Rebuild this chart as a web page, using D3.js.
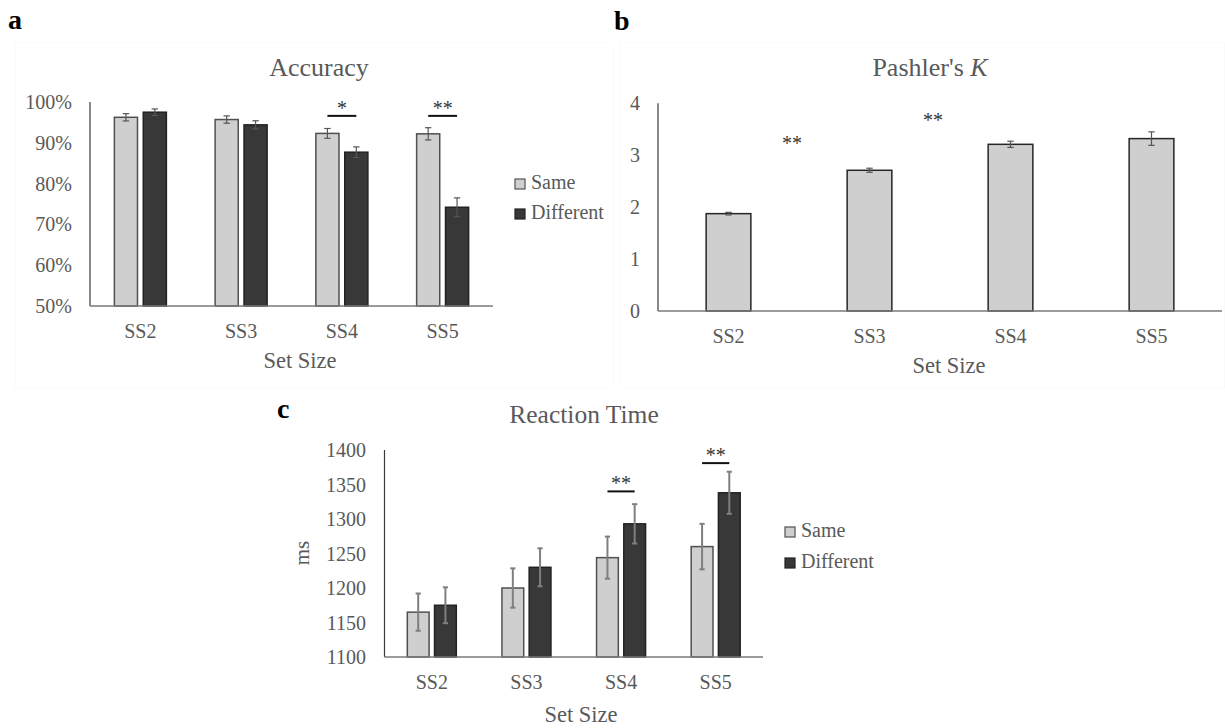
<!DOCTYPE html>
<html>
<head>
<meta charset="utf-8">
<script src="https://cdn.jsdelivr.net/npm/d3@7"></script>
<style>
  html, body { margin: 0; padding: 0; background: #fff; }
  svg { display: block; font-family: 'Liberation Serif', 'Times New Roman', Tinos, 'DejaVu Serif', serif; }
</style>
</head>
<body>
<svg id="fig" width="1225" height="728"></svg>
<script>
// ---- data ----
const setSizes = ["SS2", "SS3", "SS4", "SS5"];
const conditions = ["Same", "Different"];

// Accuracy (proportion correct) and SE
const accSame = [0.9625, 0.957, 0.923, 0.922];
const accDiff = [0.975, 0.944, 0.877, 0.742];
const accSameErr = [0.009, 0.009, 0.012, 0.015];
const accDiffErr = [0.008, 0.010, 0.013, 0.023];
const accTicks = [0.5, 0.6, 0.7, 0.8, 0.9, 1.0];
const accSig = [{ cat: "SS4", label: "*", level: 0.966 }, { cat: "SS5", label: "**", level: 0.966 }];

// Pashler's K and SE
const kValues = [1.875, 2.71, 3.21, 3.32];
const kErr = [0.025, 0.04, 0.06, 0.13];
const kTicks = [0, 1, 2, 3, 4];
const kSig = [{ from: "SS2", to: "SS3", label: "**", level: 3.29 }, { from: "SS3", to: "SS4", label: "**", level: 3.74 }];

// Reaction time (ms) and SE
const rtSame = [1165, 1200, 1244, 1260];
const rtDiff = [1175, 1230, 1293, 1338];
const rtSameErr = [27, 28.5, 30.5, 33];
const rtDiffErr = [26, 27.5, 28.5, 30.5];
const rtTicks = [1100, 1150, 1200, 1250, 1300, 1350, 1400];
const rtSig = [{ cat: "SS4", label: "**", level: 1340 }, { cat: "SS5", label: "**", level: 1381 }];

// ---- style ----
const serif = "'Liberation Serif', 'Times New Roman', Tinos, 'DejaVu Serif', serif";
const textGray = "#595959";
const fillSame = "#d0cfcf", strokeSame = "#505050";
const fillDiff = "#383838", strokeDiff = "#222222";
const fs = 20;
const axisTitleSize = 22.5;

const svg = d3.select("#fig").attr("font-family", serif);

// very faint frames around the top two panels
svg.append("rect").attr("x", 15.5).attr("y", 42.5).attr("width", 598).attr("height", 345)
  .attr("fill", "none").attr("stroke", "#fafafa");
svg.append("rect").attr("x", 620.5).attr("y", 42.5).attr("width", 604).attr("height", 345)
  .attr("fill", "none").attr("stroke", "#fafafa");

function txt(g) {
  return g.append("text").attr("font-family", serif);
}

function panelLetter(t, x, y) {
  txt(svg).attr("x", x).attr("y", y).text(t)
    .attr("font-size", 28).attr("font-weight", "bold").attr("fill", "#000");
}

function yAxisLabels(g, y, ticks, x, fmt) {
  g.selectAll(null).data(ticks).join("text")
    .attr("font-family", serif)
    .attr("x", x).attr("y", d => y(d)).attr("dy", "0.35em")
    .attr("text-anchor", "end").attr("font-size", fs).attr("fill", textGray)
    .text(fmt);
}

function xAxisLabels(g, x, yBase) {
  g.selectAll(null).data(setSizes).join("text")
    .attr("font-family", serif)
    .attr("x", d => x(d) + x.bandwidth() / 2).attr("y", yBase)
    .attr("text-anchor", "middle").attr("font-size", fs).attr("fill", textGray)
    .text(d => d);
}

function axesLines(g, x, yTop, yBottom) {
  const [x0, x1] = x.range();
  g.append("line").attr("x1", x0).attr("x2", x0).attr("y1", yTop).attr("y2", yBottom)
    .attr("stroke", "#3a3a3a").attr("stroke-width", 1.2);
  g.append("line").attr("x1", x0).attr("x2", x1).attr("y1", yBottom).attr("y2", yBottom)
    .attr("stroke", "#7a7a7a").attr("stroke-width", 1.6);
}

function errorBars(g, rows, y, cap, color, width) {
  const eb = g.selectAll(null).data(rows).join("g");
  eb.append("line").attr("x1", d => d.cx).attr("x2", d => d.cx)
    .attr("y1", d => y(d.v - d.e)).attr("y2", d => y(d.v + d.e))
    .attr("stroke", color).attr("stroke-width", width);
  eb.append("line").attr("x1", d => d.cx - cap).attr("x2", d => d.cx + cap)
    .attr("y1", d => y(d.v + d.e)).attr("y2", d => y(d.v + d.e))
    .attr("stroke", color).attr("stroke-width", width);
  eb.append("line").attr("x1", d => d.cx - cap).attr("x2", d => d.cx + cap)
    .attr("y1", d => y(d.v - d.e)).attr("y2", d => y(d.v - d.e))
    .attr("stroke", color).attr("stroke-width", width);
}

function groupedBars(g, x, xi, y, same, diff, sameErr, diffErr, baseVal, cap, ebColor, ebWidth) {
  const rows = [];
  setSizes.forEach((c, i) => {
    rows.push({ c, s: "Same", v: same[i], e: sameErr[i] });
    rows.push({ c, s: "Different", v: diff[i], e: diffErr[i] });
  });
  rows.forEach(d => { d.x = x(d.c) + xi(d.s); d.cx = d.x + xi.bandwidth() / 2; });
  g.selectAll(null).data(rows).join("rect")
    .attr("x", d => d.x).attr("width", xi.bandwidth())
    .attr("y", d => y(d.v)).attr("height", d => y(baseVal) - y(d.v))
    .attr("fill", d => d.s === "Same" ? fillSame : fillDiff)
    .attr("stroke", d => d.s === "Same" ? strokeSame : strokeDiff)
    .attr("stroke-width", 1.5);
  errorBars(g, rows, y, cap, ebColor, ebWidth);
}

function sigBrackets(g, x, xi, y, sig, size) {
  sig.forEach(s => {
    const xa = x(s.cat) + xi("Same") + xi.bandwidth() / 2;
    const xb = x(s.cat) + xi("Different") + xi.bandwidth() / 2;
    const yy = y(s.level);
    g.append("line").attr("x1", xa).attr("x2", xb).attr("y1", yy).attr("y2", yy)
      .attr("stroke", "#111").attr("stroke-width", 2);
    txt(g).attr("x", (xa + xb) / 2).attr("y", yy - 1)
      .attr("text-anchor", "middle").attr("font-size", size).attr("fill", "#333")
      .text(s.label);
  });
}

function legend(g, x, y0, step) {
  conditions.forEach((c, i) => {
    const yy = y0 + i * step;
    g.append("rect").attr("x", x).attr("y", yy - 10).attr("width", 10).attr("height", 10)
      .attr("fill", c === "Same" ? fillSame : fillDiff)
      .attr("stroke", c === "Same" ? strokeSame : strokeDiff).attr("stroke-width", 1.2);
    txt(g).attr("x", x + 16).attr("y", yy).attr("font-size", fs).attr("fill", textGray).text(c);
  });
}

// ---- panel a: Accuracy ----
{
  const g = svg.append("g");
  panelLetter("a", 8, 29);
  const x = d3.scaleBand().domain(setSizes).range([90, 493]);
  const xi = d3.scaleBand().domain(conditions)
    .range([x.bandwidth() / 2 - 26, x.bandwidth() / 2 + 26]).paddingInner(0.2);
  const y = d3.scaleLinear().domain([0.5, 1]).range([306, 102]);
  txt(g).attr("x", 319).attr("y", 76).attr("text-anchor", "middle")
    .attr("font-size", 26).attr("fill", textGray).text("Accuracy");
  yAxisLabels(g, y, accTicks, 72, d3.format(".0%"));
  groupedBars(g, x, xi, y, accSame, accDiff, accSameErr, accDiffErr, 0.5, 3.2, "#555", 1.2);
  axesLines(g, x, y(1), y(0.5));
  xAxisLabels(g, x, 337.5);
  txt(g).attr("x", 300).attr("y", 368).attr("text-anchor", "middle")
    .attr("font-size", axisTitleSize).attr("fill", textGray).text("Set Size");
  sigBrackets(g, x, xi, y, accSig, 20);
  legend(g, 515, 189, 30);
}

// ---- panel b: Pashler's K ----
{
  const g = svg.append("g");
  panelLetter("b", 614, 30);
  const x = d3.scaleBand().domain(setSizes).range([658, 1222])
    .paddingInner(0.683).paddingOuter(0.3415);
  const y = d3.scaleLinear().domain([0, 4]).range([311, 103.3]);
  const t = txt(g).attr("x", 930).attr("y", 76).attr("text-anchor", "middle")
    .attr("font-size", 26).attr("fill", textGray);
  t.append("tspan").text("Pashler's ");
  t.append("tspan").attr("font-style", "italic").text("K");
  yAxisLabels(g, y, kTicks, 640, d => d);
  const rows = setSizes.map((c, i) => ({ c, v: kValues[i], e: kErr[i] }));
  rows.forEach(d => { d.cx = x(d.c) + x.bandwidth() / 2; });
  g.selectAll(null).data(rows).join("rect")
    .attr("x", d => x(d.c)).attr("width", x.bandwidth())
    .attr("y", d => y(d.v)).attr("height", d => y(0) - y(d.v))
    .attr("fill", fillSame).attr("stroke", "#262626").attr("stroke-width", 1.5);
  errorBars(g, rows, y, 3.2, "#555", 1.2);
  axesLines(g, x, y(4), y(0));
  xAxisLabels(g, x, 342.7);
  txt(g).attr("x", 949).attr("y", 373).attr("text-anchor", "middle")
    .attr("font-size", axisTitleSize).attr("fill", textGray).text("Set Size");
  kSig.forEach(s => {
    const mx = (x(s.from) + x(s.to) + x.bandwidth()) / 2 - 7;
    txt(g).attr("x", mx).attr("y", y(s.level) + 10).attr("text-anchor", "middle")
      .attr("font-size", 20).attr("fill", "#333").text(s.label);
  });
}

// ---- panel c: Reaction Time ----
{
  const g = svg.append("g");
  panelLetter("c", 277, 418);
  const x = d3.scaleBand().domain(setSizes).range([384.5, 763]);
  const xi = d3.scaleBand().domain(conditions)
    .range([x.bandwidth() / 2 - 24.5, x.bandwidth() / 2 + 24.5]).paddingInner(0.2);
  const y = d3.scaleLinear().domain([1100, 1400]).range([657, 450]);
  txt(g).attr("x", 584).attr("y", 422.5).attr("text-anchor", "middle")
    .attr("font-size", 25.5).attr("fill", textGray).text("Reaction Time");
  yAxisLabels(g, y, rtTicks, 366, d => d);
  txt(g).attr("transform", "translate(309,553) rotate(-90)")
    .attr("text-anchor", "middle").attr("font-size", 21).attr("fill", textGray).text("ms");
  groupedBars(g, x, xi, y, rtSame, rtDiff, rtSameErr, rtDiffErr, 1100, 2.6, "#7f7f7f", 2);
  axesLines(g, x, y(1400), y(1100));
  xAxisLabels(g, x, 689);
  txt(g).attr("x", 581).attr("y", 721.5).attr("text-anchor", "middle")
    .attr("font-size", axisTitleSize).attr("fill", textGray).text("Set Size");
  sigBrackets(g, x, xi, y, rtSig, 20);
  legend(g, 785, 537, 31);
}
</script>
</body>
</html>
